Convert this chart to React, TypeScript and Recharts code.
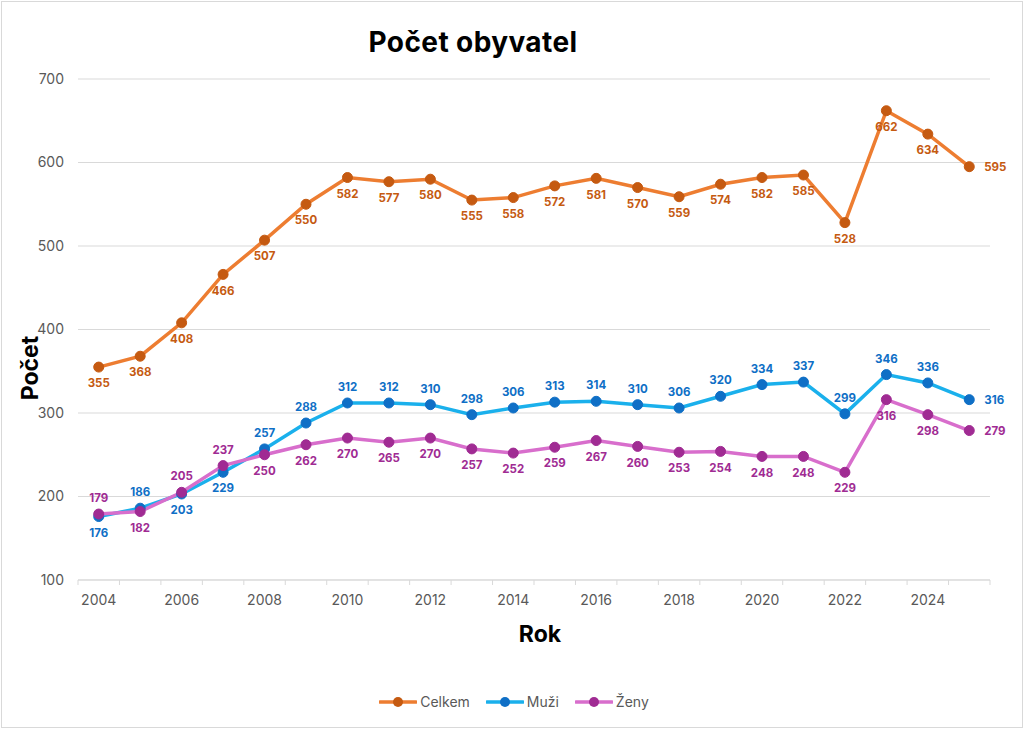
import React from "react";
import { LineChart, Line, XAxis, YAxis, CartesianGrid, LabelList } from "recharts";

const years = [2004, 2005, 2006, 2007, 2008, 2009, 2010, 2011, 2012, 2013, 2014, 2015, 2016, 2017, 2018, 2019, 2020, 2021, 2022, 2023, 2024, 2025];
const celkem = [355, 368, 408, 466, 507, 550, 582, 577, 580, 555, 558, 572, 581, 570, 559, 574, 582, 585, 528, 662, 634, 595];
const muzi = [176, 186, 203, 229, 257, 288, 312, 312, 310, 298, 306, 313, 314, 310, 306, 320, 334, 337, 299, 346, 336, 316];
const zeny = [179, 182, 205, 237, 250, 262, 270, 265, 270, 257, 252, 259, 267, 260, 253, 254, 248, 248, 229, 316, 298, 279];
const yearLabels = [2004, 2006, 2008, 2010, 2012, 2014, 2016, 2018, 2020, 2022, 2024];
const yTicks = [100, 200, 300, 400, 500, 600, 700];

const data = years.map((y, i) => ({ year: y, celkem: celkem[i], muzi: muzi[i], zeny: zeny[i] }));
const boundaryTicks = [...years.map((y) => y - 0.5), years[years.length - 1] + 0.5];
const xTicks = [...boundaryTicks, ...yearLabels].sort((a, b) => a - b);

const FONT = "Inter, 'Noto Sans', sans-serif";
const GRID = "#d9d9d9";
const TEXT = "#595959";

const C_LINE = "#ED7D31";
const C_MARK = "#C55A11";
const M_LINE = "#1AB0EC";
const M_MARK = "#0F6FC6";
const Z_LINE = "#D86ECC";
const Z_MARK = "#A02B93";

// label placement: indices shown above the point (others below), last index to the right
const muziAbove = (i: number) => !(i === 0 || i === 2 || i === 3);
const zenyAbove = (i: number) => i === 0 || i === 2 || i === 3;
const celkemAbove = (_i: number) => false;

const makeLabel = (color: string, above: (i: number) => boolean) => (props: any) => {
  const { x, y, value, index } = props;
  const last = index === years.length - 1;
  let tx = x;
  let ty = y;
  let anchor: "middle" | "start" = "middle";
  if (last) {
    tx = x + 15;
    anchor = "start";
  } else if (above(index)) {
    ty = y - 16;
  } else {
    ty = y + 16;
  }
  return (
    <text
      x={tx}
      y={ty}
      dy="0.36em"
      textAnchor={anchor}
      fill={color}
      fontSize={11.5}
      fontWeight={700}
      fontFamily={FONT}
    >
      {value}
    </text>
  );
};

const XTick = (props: any) => {
  const { x, y, payload } = props;
  const v = payload.value;
  if (Number.isInteger(v)) {
    return (
      <text x={x} y={y + 25} textAnchor="middle" fill={TEXT} fontSize={14} fontFamily={FONT}>
        {v}
      </text>
    );
  }
  return <line x1={x} x2={x} y1={y} y2={y + 5} stroke={GRID} strokeWidth={1} />;
};

const LegendItem = ({ line, mark, label }: { line: string; mark: string; label: string }) => (
  <div style={{ display: "flex", alignItems: "center", marginRight: 16 }}>
    <svg width={38} height={12} style={{ marginRight: 3 }}>
      <line x1={1} x2={37} y1={6} y2={6} stroke={line} strokeWidth={3.5} strokeLinecap="round" />
      <circle cx={19} cy={6} r={5} fill={mark} />
    </svg>
    <span>{label}</span>
  </div>
);

export default function App() {
  return (
    <div
      style={{
        position: "absolute",
        left: 0,
        top: 0,
        width: 1024,
        height: 729,
        background: "#fff",
        fontFamily: FONT,
      }}
    >
      <div
        style={{
          position: "absolute",
          left: 1,
          top: 1,
          width: 1020,
          height: 725,
          border: "1px solid #d9d9d9",
          pointerEvents: "none",
        }}
      />
      <div
        style={{
          position: "absolute",
          left: 473,
          top: 42,
          transform: "translate(-50%, -50%)",
          fontSize: 28,
          fontWeight: 700,
          letterSpacing: 0.4,
          color: "#000",
          whiteSpace: "nowrap",
        }}
      >
        Počet obyvatel
      </div>
      <div
        style={{
          position: "absolute",
          left: 30,
          top: 368,
          transform: "translate(-50%, -50%) rotate(-90deg)",
          fontSize: 23,
          fontWeight: 700,
          color: "#000",
          whiteSpace: "nowrap",
        }}
      >
        Počet
      </div>
      <div
        style={{
          position: "absolute",
          left: 540,
          top: 634,
          transform: "translate(-50%, -50%)",
          fontSize: 23,
          fontWeight: 700,
          color: "#000",
        }}
      >
        Rok
      </div>
      <div
        style={{
          position: "absolute",
          left: 0,
          width: 1044,
          top: 693,
          display: "flex",
          justifyContent: "center",
          fontSize: 14,
          color: TEXT,
        }}
      >
        <LegendItem line={C_LINE} mark={C_MARK} label="Celkem" />
        <LegendItem line={M_LINE} mark={M_MARK} label="Muži" />
        <LegendItem line={Z_LINE} mark={Z_MARK} label="Ženy" />
      </div>
      <div style={{ position: "absolute", left: 0, top: 0 }}>
        <LineChart
          width={1024}
          height={729}
          data={data}
          margin={{ top: 79, right: 34, bottom: 119, left: 18 }}
        >
          <CartesianGrid vertical={false} stroke={GRID} />
          <XAxis
            dataKey="year"
            type="number"
            domain={[years[0] - 0.5, years[years.length - 1] + 0.5]}
            ticks={xTicks}
            interval={0}
            tickLine={false}
            tickSize={0}
            tickMargin={0}
            tick={<XTick />}
            stroke={GRID}
            height={30}
            allowDataOverflow
          />
          <YAxis
            domain={[100, 700]}
            ticks={yTicks}
            interval={0}
            axisLine={false}
            tickLine={false}
            tickSize={0}
            tickMargin={14}
            width={60}
            tick={{ fill: TEXT, fontSize: 14, fontFamily: FONT }}
          />
          <Line
            dataKey="celkem"
            stroke={C_LINE}
            strokeWidth={3.5}
            dot={{ r: 5, fill: C_MARK, stroke: C_MARK, strokeWidth: 1 }}
            activeDot={false}
            isAnimationActive={false}
          >
            <LabelList dataKey="celkem" content={makeLabel(C_MARK, celkemAbove)} />
          </Line>
          <Line
            dataKey="muzi"
            stroke={M_LINE}
            strokeWidth={3.5}
            dot={{ r: 5, fill: M_MARK, stroke: M_MARK, strokeWidth: 1 }}
            activeDot={false}
            isAnimationActive={false}
          >
            <LabelList dataKey="muzi" content={makeLabel(M_MARK, muziAbove)} />
          </Line>
          <Line
            dataKey="zeny"
            stroke={Z_LINE}
            strokeWidth={3.5}
            dot={{ r: 5, fill: Z_MARK, stroke: Z_MARK, strokeWidth: 1 }}
            activeDot={false}
            isAnimationActive={false}
          >
            <LabelList dataKey="zeny" content={makeLabel(Z_MARK, zenyAbove)} />
          </Line>
        </LineChart>
      </div>
    </div>
  );
}
